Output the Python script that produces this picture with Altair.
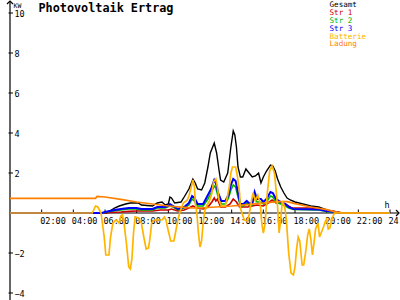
import altair as alt
import pandas as pd

# ---------------- data (hours of day, kW) ----------------
gesamt_h = [0, 6.1, 6.3, 6.6, 6.9, 7.3, 7.6, 8.1, 8.3, 9.0, 9.3, 9.6, 9.8, 10.0, 10.1, 10.2, 10.4, 10.8, 11.0, 11.3,
            11.55, 11.7, 11.85, 12.1, 12.3, 12.5, 12.65, 12.9, 13.05, 13.2, 13.3, 13.5, 13.75, 13.85, 13.95, 14.1,
            14.2, 14.3, 14.4, 14.55, 14.7, 14.9, 15.1, 15.3, 15.5, 15.7, 15.85, 16.0, 16.2, 16.45, 16.6, 16.75,
            16.9, 17.1, 17.3, 17.5, 17.7, 18.0, 18.5, 19.0, 19.5, 20.0, 20.5, 20.9, 24]
gesamt_v = [0, 0, 0.1, 0.25, 0.35, 0.45, 0.5, 0.5, 0.4, 0.35, 0.5, 0.55, 0.4, 0.45, 0.8, 0.75, 0.5, 0.55, 0.8, 1.2,
            1.7, 1.5, 1.2, 1.15, 1.5, 2.3, 3.0, 3.5, 3.0, 2.15, 1.65, 1.55, 2.0, 2.65, 3.3, 4.1,
            3.9, 3.3, 2.3, 1.8, 1.8, 2.2, 2.0, 1.8, 1.85, 2.0, 1.5, 1.8, 2.1, 2.4, 2.35, 2.1,
            1.7, 1.3, 1.0, 0.75, 0.65, 0.55, 0.45, 0.35, 0.3, 0.15, 0.07, 0, 0]

str1_h = [0, 6.0, 6.3, 7.0, 7.5, 8.0, 9.0, 9.5, 10.0, 10.2, 10.6, 11.0, 11.3, 11.55, 11.8, 12.2, 12.5, 12.75, 12.9,
          13.0, 13.1, 13.3, 13.6, 13.9, 14.1, 14.3, 14.5, 15.0, 15.3, 15.6, 16.0, 16.3, 16.55, 16.8, 17.2, 17.5,
          17.8, 19.0, 19.8, 20.3, 20.8, 21.0, 24]
str1_v = [0, 0, 0.03, 0.05, 0.08, 0.1, 0.1, 0.15, 0.15, 0.2, 0.1, 0.15, 0.25, 0.35, 0.25, 0.2, 0.3, 0.55, 0.75,
          0.6, 0.7, 0.3, 0.3, 0.45, 0.7, 0.55, 0.3, 0.3, 0.35, 0.4, 0.35, 0.5, 0.65, 0.5, 0.5, 0.4,
          0.25, 0.25, 0.15, 0.1, 0.03, 0, 0]

str2_h = [0, 5.8, 6.1, 6.5, 7.0, 7.5, 8.0, 8.3, 9.0, 9.3, 9.8, 10.1, 10.3, 10.6, 11.0, 11.3, 11.5, 11.65, 11.85,
          12.2, 12.5, 12.7, 12.9, 13.0, 13.15, 13.35, 13.6, 13.8, 13.95, 14.1, 14.25, 14.4, 14.55, 14.75, 14.95,
          15.15, 15.3, 15.45, 15.6, 15.85, 16.0, 16.2, 16.45, 16.6, 16.8, 17.1, 17.4, 17.6, 17.9, 19.5, 20.0,
          20.6, 20.8, 24]
str2_v = [0, 0, 0.05, 0.1, 0.15, 0.2, 0.2, 0.15, 0.15, 0.25, 0.25, 0.35, 0.3, 0.15, 0.25, 0.4, 0.7, 0.6, 0.35,
          0.35, 0.7, 1.0, 1.35, 1.25, 0.8, 0.45, 0.45, 0.75, 1.15, 1.4, 1.3, 0.8, 0.35, 0.35, 0.5,
          0.35, 0.4, 0.85, 0.55, 0.55, 0.45, 0.55, 0.85, 0.8, 0.55, 0.45, 0.35, 0.25, 0.18, 0.15, 0.08,
          0.04, 0, 0]

str3_h = [0, 5.8, 6.0, 6.3, 6.6, 7.0, 7.5, 8.0, 8.3, 9.0, 9.3, 9.8, 10.0, 10.1, 10.3, 10.6, 11.0, 11.3, 11.5, 11.65,
          11.85, 12.2, 12.5, 12.7, 12.9, 13.0, 13.15, 13.35, 13.6, 13.8, 13.95, 14.1, 14.25, 14.4, 14.55, 14.75,
          14.95, 15.15, 15.3, 15.45, 15.6, 15.85, 16.0, 16.2, 16.45, 16.6, 16.8, 17.1, 17.4, 17.6, 17.9, 19.5,
          20.0, 20.6, 20.8, 24]
str3_v = [0, 0, 0.05, 0.1, 0.15, 0.2, 0.25, 0.25, 0.2, 0.2, 0.3, 0.3, 0.35, 0.45, 0.35, 0.2, 0.3, 0.5, 0.85, 0.75,
          0.45, 0.45, 0.9, 1.2, 1.65, 1.5, 1.0, 0.6, 0.6, 0.9, 1.4, 1.7, 1.6, 1.0, 0.45, 0.45,
          0.6, 0.45, 0.5, 1.05, 0.7, 0.7, 0.55, 0.7, 1.05, 1.0, 0.7, 0.55, 0.45, 0.3, 0.2, 0.18,
          0.1, 0.05, 0, 0]

batterie_h = [0, 5.2, 5.4, 5.55, 5.75, 5.95, 6.05, 6.25, 6.35, 6.5, 6.7, 6.9, 7.0, 7.1, 7.2, 7.35, 7.5, 7.6, 7.7,
              7.8, 7.9, 8.1, 8.3, 8.45, 8.6, 8.75, 8.85, 8.95, 9.1, 9.6, 9.75, 9.85, 10.0, 10.15, 10.35, 10.45,
              10.6, 10.75, 10.95, 11.2, 11.3, 11.45, 11.55, 11.65, 11.7, 11.8, 11.9, 12.0, 12.1, 12.2, 12.3,
              12.45, 12.6, 12.75, 12.85, 13.0, 13.1, 13.2, 13.35, 13.6, 13.75, 13.85, 13.95, 14.05, 14.25,
              14.35, 14.5, 14.55, 14.65, 14.8, 15.0, 15.1, 15.25, 15.35, 15.5, 15.65, 15.8, 15.9, 16.0, 16.1,
              16.25, 16.4, 16.55, 16.7, 16.8, 16.9, 17.0, 17.1, 17.2, 17.35, 17.45, 17.6, 17.75, 17.9, 18.0,
              18.1, 18.2, 18.3, 18.45, 18.55, 18.7, 18.8, 18.9, 19.0, 19.1, 19.2, 19.3, 19.45, 19.55, 19.7,
              19.8, 19.9, 20.0, 20.1, 20.2, 20.35, 20.5, 24]
batterie_v = [0, 0, 0.35, 0.3, 0, -1.2, -2.1, -2.1, -1.2, -0.5, -0.35, -0.5, -0.15, -0.1, -0.5, -1.5, -2.7, -2.8, -2.3,
              -1.0, -0.2, -0.25, -0.5, -1.2, -1.8, -1.75, -1.2, -0.5, -0.35, -0.35, -0.2, -0.35, -0.9, -1.4, -1.4, -1.0,
              -0.35, 0.1, 0.5, 0.65, 0.85, 1.3, 1.65, 1.3, 0.5, 0, -1.0, -1.7, -1.4, -0.5, 0.1,
              0.4, 0.6, 1.0, 1.55, 1.7, 1.3, 0.65, 0.35, 0.35, 0.9, 1.3, 2.0, 2.3, 2.3,
              1.9, 1.0, 0.25, 0, -0.35, -0.4, -0.1, 0.6, 1.0, 0.6, 0.9, 0.5, -0.5, -1.0, -0.6,
              1.0, 2.1, 2.35, 2.0, 1.2, 0.3, -1.0, -0.3, 0.6, 0.3, -0.3, -2.0, -3.0, -3.1, -2.7,
              -1.8, -1.2, -1.4, -2.6, -2.6, -1.8, -1.1, -0.8, -1.3, -2.1, -1.5, -0.8, -0.5, -1.2, -0.9,
              -0.7, -0.45, -0.3, -0.8, -0.75, -0.25, 0, 0]

ladung_h = [0, 5.4, 5.5, 6.0, 7.0, 8.0, 9.0, 10.0, 11.0, 11.5, 12.0, 13.0, 14.0, 15.0, 16.0, 17.0, 17.5, 18.0,
            19.0, 20.0, 20.5, 21.0, 24]
ladung_v = [0.73, 0.73, 0.83, 0.8, 0.68, 0.55, 0.45, 0.35, 0.28, 0.25, 0.25, 0.3, 0.35, 0.42, 0.5, 0.57, 0.57, 0.47,
            0.3, 0.17, 0.07, 0, 0]

series_names = ["Gesamt", "Str 1", "Str 2", "Str 3", "Batterie", "Ladung"]
series_colors = ["#000000", "#cc0000", "#00b400", "#0000ff", "#ffb400", "#ff8000"]
series_data = [(gesamt_h, gesamt_v), (str1_h, str1_v), (str2_h, str2_v),
               (str3_h, str3_v), (batterie_h, batterie_v), (ladung_h, ladung_v)]
series_widths = [1.4, 1.6, 1.6, 2.0, 1.7, 1.7]
draw_order = [0, 1, 2, 3, 5, 4]

y_ticks = [-4, -2, 2, 4, 6, 8, 10]
x_ticks = [2, 4, 6, 8, 10, 12, 14, 16, 18, 20, 22, 24]
x_tick_labels = ["02:00", "04:00", "06:00", "08:00", "10:00", "12:00",
                 "14:00", "16:00", "18:00", "20:00", "22:00", "24:00"]

TITLE = "Photovoltaik Ertrag"
Y_UNIT = "KW"
X_UNIT = "h"

# ---------------- chart ----------------
W, H = 380, 297
FONT = "DejaVu Sans Mono"
x_scale = alt.Scale(domain=[0, 24], nice=False, zero=False)
y_scale = alt.Scale(domain=[-4.35, 10.5], nice=False, zero=False)

label_arr = "[" + ",".join("'%s'" % s for s in x_tick_labels) + "]"
x_axis = alt.Axis(values=x_ticks, labelExpr=label_arr + "[datum.value/2-1]", orient="bottom", offset=-87,
                  domain=False, ticks=False, tickSize=0, grid=False, title=None,
                  labelAlign="left", labelOffset=-2, labelPadding=3, labelBaseline="top",
                  labelFont=FONT, labelFontSize=8.5, labelColor="#000000",
                  labelOverlap=False, labelFlush=False)
y_axis = alt.Axis(values=y_ticks, domain=False, ticks=False, tickSize=0, grid=False, title=None,
                  labelAlign="left", labelPadding=-4, labelBaseline="middle",
                  labelFont=FONT, labelFontSize=8.5, labelColor="#000000",
                  labelOverlap=False, labelFlush=False)

X = lambda f: alt.X(f, type="quantitative", scale=x_scale, axis=x_axis)
Y = lambda f: alt.Y(f, type="quantitative", scale=y_scale, axis=y_axis)

layers = []

# y tick marks
layers.append(alt.Chart(pd.DataFrame({"v": y_ticks})).mark_rule(color="black", strokeWidth=1).encode(
    y=Y("v"), x=alt.value(-1.5), x2=alt.value(3)))
# x tick marks
layers.append(alt.Chart(pd.DataFrame({"h": x_ticks})).mark_rule(color="black", strokeWidth=1).encode(
    x=X("h"), y=alt.value(206.5), y2=alt.value(210)))
# axis lines
layers.append(alt.Chart(pd.DataFrame({"h": [0]})).mark_rule(color="black", strokeWidth=1.2).encode(
    x=X("h"), y=alt.value(-2), y2=alt.value(H)))
layers.append(alt.Chart(pd.DataFrame({"v": [0]})).mark_rule(color="black", strokeWidth=1.2).encode(
    y=Y("v"), x=alt.value(0), x2=alt.value(389)))

# series lines
for i in draw_order:
    hs, vs = series_data[i]
    df = pd.DataFrame({"h": hs, "v": vs})
    layers.append(alt.Chart(df).mark_line(color=series_colors[i], strokeWidth=series_widths[i],
                                          interpolate="linear").encode(x=X("h"), y=Y("v")))

# arrow heads
layers.append(alt.Chart(pd.DataFrame({"h": [0]})).mark_point(
    shape="M-1,1L0,0L1,1", size=36, filled=False, color="black", strokeWidth=1.2, opacity=1).encode(
    x=X("h"), y=alt.value(-2)))
layers.append(alt.Chart(pd.DataFrame({"v": [0]})).mark_point(
    shape="M-1,-1L0,0L-1,1", size=36, filled=False, color="black", strokeWidth=1.2, opacity=1).encode(
    y=Y("v"), x=alt.value(389)))

# unit labels and title
layers.append(alt.Chart(pd.DataFrame({"t": [Y_UNIT]})).mark_text(
    align="left", baseline="alphabetic", font=FONT, fontSize=6.5, color="black").encode(
    text="t:N", x=alt.value(3.5), y=alt.value(4.5)))
layers.append(alt.Chart(pd.DataFrame({"t": [X_UNIT]})).mark_text(
    align="left", baseline="alphabetic", font=FONT, fontSize=8.5, color="black").encode(
    text="t:N", x=alt.value(374.5), y=alt.value(204.5)))
layers.append(alt.Chart(pd.DataFrame({"t": [TITLE]})).mark_text(
    align="left", baseline="alphabetic", font=FONT, fontSize=11.8, fontWeight="bold", color="black").encode(
    text="t:N", x=alt.value(28.5), y=alt.value(9)))

# legend
for i, (name, col) in enumerate(zip(series_names, series_colors)):
    layers.append(alt.Chart(pd.DataFrame({"t": [name]})).mark_text(
        align="left", baseline="alphabetic", font=FONT, fontSize=7.6, color=col).encode(
        text="t:N", x=alt.value(319.5), y=alt.value(4.3 + 7.8 * i)))

chart = alt.layer(*layers).properties(
    width=W, height=H,
    autosize=alt.AutoSizeParams(type="none"),
    padding={"left": 10, "top": 3, "right": 10, "bottom": 0},
    background="white",
).configure_view(stroke=None, clip=False)

chart.save("out.html", embed_options={"renderer": "svg", "actions": False})
